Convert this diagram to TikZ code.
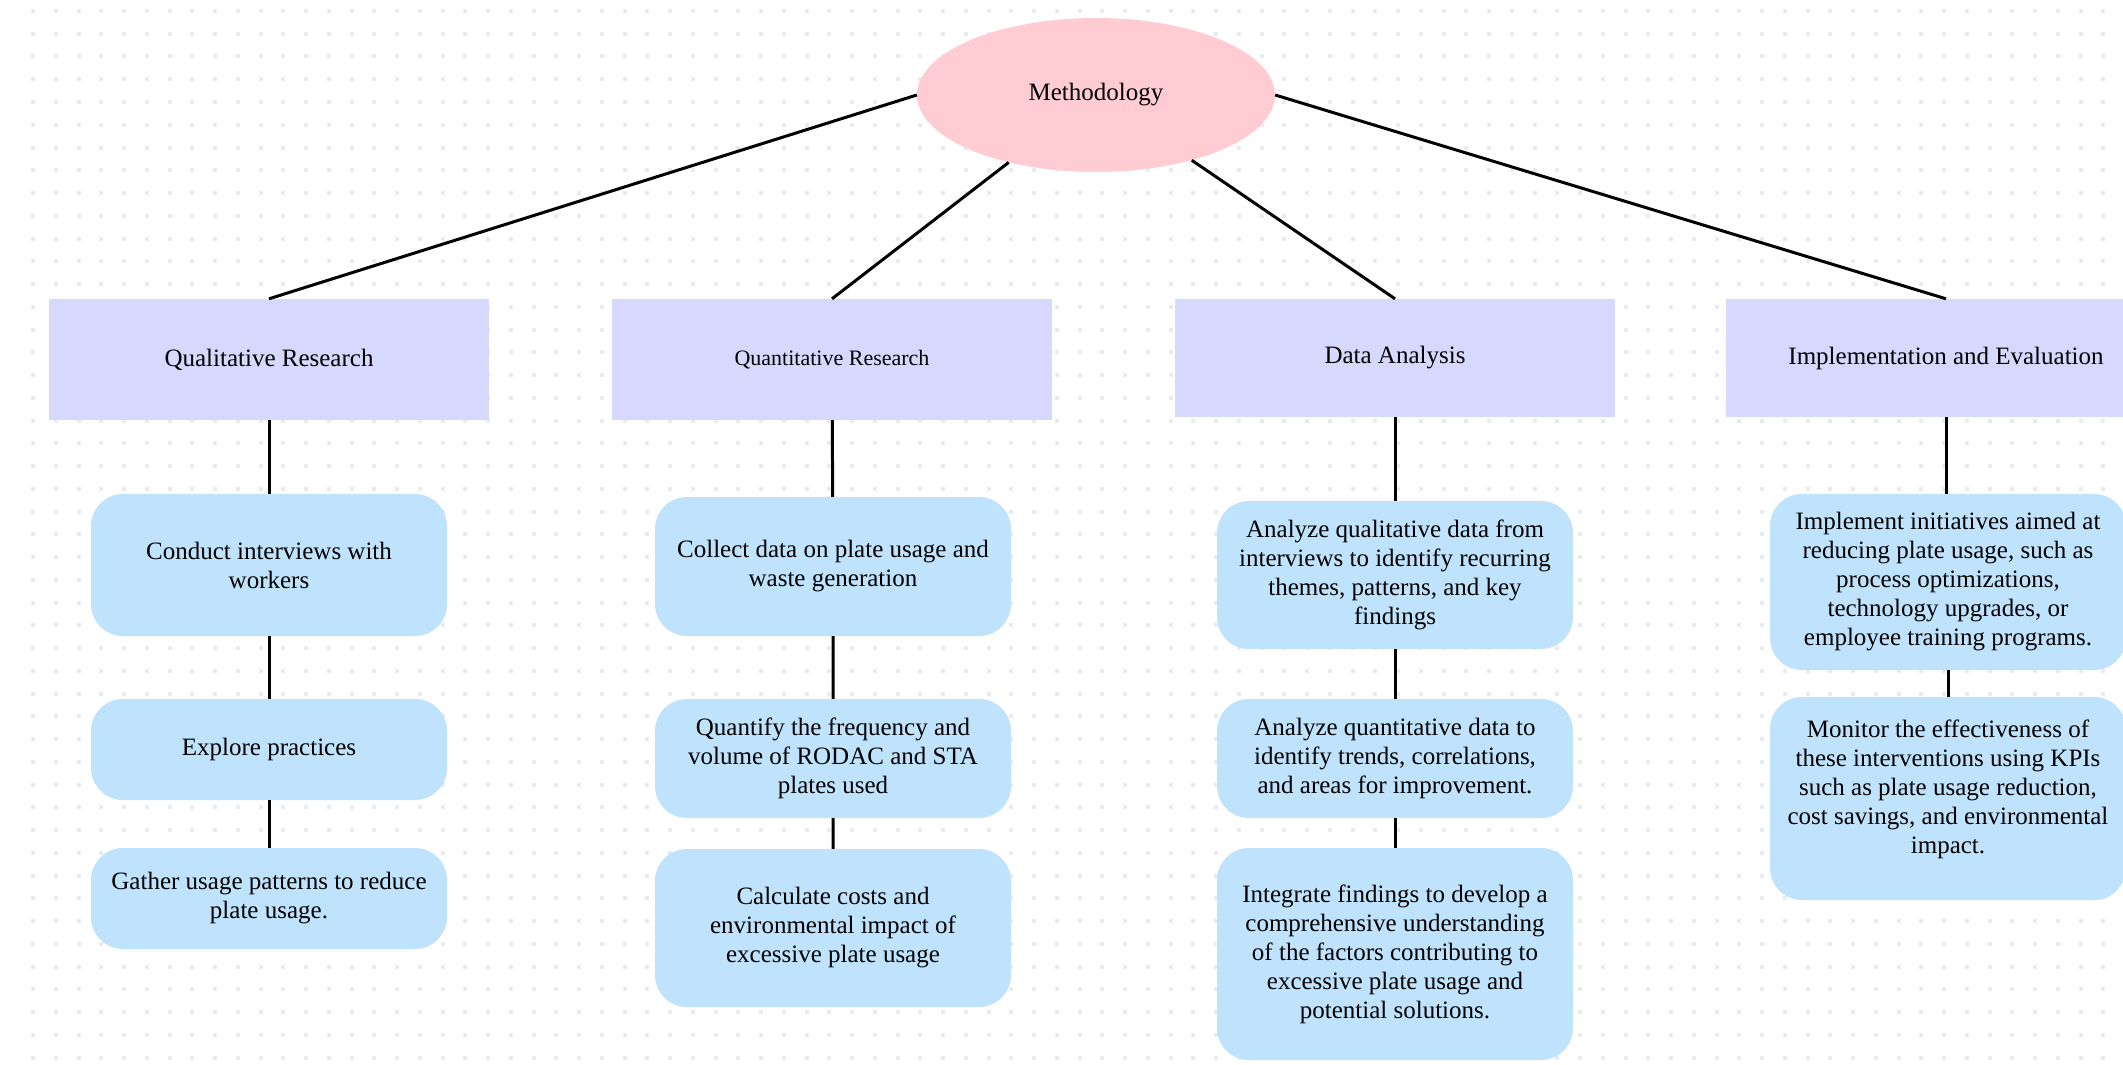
\documentclass[tikz,border=0pt]{standalone}
\usepackage{fontspec}
\setmainfont{Liberation Serif}
\usepackage{tikz}
\usepackage{xcolor}
\usetikzlibrary{shapes.geometric}

\definecolor{pinkfill}{HTML}{FFCCD3}
\definecolor{phasefill}{HTML}{D6D8FE}
\definecolor{stepfill}{HTML}{BFE3FD}
\definecolor{dotgray}{HTML}{EAEBF1}

\begin{document}
\begin{tikzpicture}[x=1pt,y=-1pt,
    mainnode/.style={ellipse,fill=pinkfill,minimum width=358pt,minimum height=154pt,inner sep=0pt,font=\fontsize{25}{29}\selectfont},
    phasebox/.style={rectangle,fill=phasefill,minimum width=440pt,minimum height=121pt,inner sep=0pt,font=\fontsize{25}{29}\selectfont},
    stepbox/.style={rectangle,rounded corners=32pt,fill=stepfill,minimum width=356pt,inner sep=0pt,align=center,font=\fontsize{25}{29}\selectfont},
    link/.style={line width=3pt,black}]
                \useasboundingbox (0,0) rectangle (2123,1065);
                \clip (0,0) rectangle (2123,1065);
                \fill[white] (0,0) rectangle (2123,1065);
                % dotted background
                \foreach \i in {0,...,91}
                    \foreach \j in {0,...,46}
                        \fill[dotgray] ({31+22.75*\i},{9+22.75*\j}) rectangle +(4,4);
                % root
                \node[mainnode] (meth) at (1096,95) {Methodology};
                % phases
                \node[phasebox] (qual) at (269,359.5) {Qualitative Research};
                \node[phasebox,font=\fontsize{22}{26}\selectfont] (quant) at (832,359.5) {Quantitative Research};
                \node[phasebox,minimum height=118pt] (data) at (1395,358) {Data Analysis};
                \node[phasebox,minimum height=118pt] (impl) at (1946,358) {Implementation and Evaluation};
                % steps
                \node[stepbox,minimum height=142pt] (conduct) at (269,565) {Conduct interviews with\\workers};
                \node[stepbox,minimum height=101pt] (explore) at (269,749.5) {Explore practices};
                \node[stepbox,minimum height=101pt] (gather) at (269,898.5) {Gather usage patterns to reduce\\plate usage.};
                \node[stepbox,minimum height=139pt] (collect) at (833,566.5) {Collect data on plate usage and\\waste generation};
                \node[stepbox,minimum height=119pt] (quantify) at (833,758.5) {Quantify the frequency and\\volume of RODAC and STA\\plates used};
                \node[stepbox,minimum height=158pt] (calc) at (833,928) {Calculate costs and\\environmental impact of\\excessive plate usage};
                \node[stepbox,minimum height=148pt] (anqual) at (1395,575) {Analyze qualitative data from\\interviews to identify recurring\\themes, patterns, and key\\findings};
                \node[stepbox,minimum height=119pt] (anquant) at (1395,758.5) {Analyze quantitative data to\\identify trends, correlations,\\and areas for improvement.};
                \node[stepbox,minimum height=212pt] (integ) at (1395,954) {Integrate findings to develop a\\comprehensive understanding\\of the factors contributing to\\excessive plate usage and\\potential solutions.};
                \node[stepbox,minimum height=176pt] (implement) at (1948,582) {Implement initiatives aimed at\\reducing plate usage, such as\\process optimizations,\\technology upgrades, or\\employee training programs.};
                \node[stepbox,minimum height=203pt] (monitor) at (1948,798.5) {Monitor the effectiveness of\\these interventions using KPIs\\such as plate usage reduction,\\cost savings, and environmental\\impact.\\[-6pt]\mbox{}};
                % connectors
                \draw[link] (meth.west) -- (qual.north);
                \draw[link] (meth) -- (quant.north);
                \draw[link] (meth) -- (data.north);
                \draw[link] (meth.east) -- (impl.north);
                \draw[link] (qual) -- (conduct) (conduct) -- (explore) (explore) -- (gather);
                \draw[link] (quant) -- (collect) (collect) -- (quantify) (quantify) -- (calc);
                \draw[link] (data) -- (anqual) (anqual) -- (anquant) (anquant) -- (integ);
                \draw[link] (impl.south) -- (impl.south |- implement.north) (implement) -- (monitor);
            \end{tikzpicture}
\end{document}
